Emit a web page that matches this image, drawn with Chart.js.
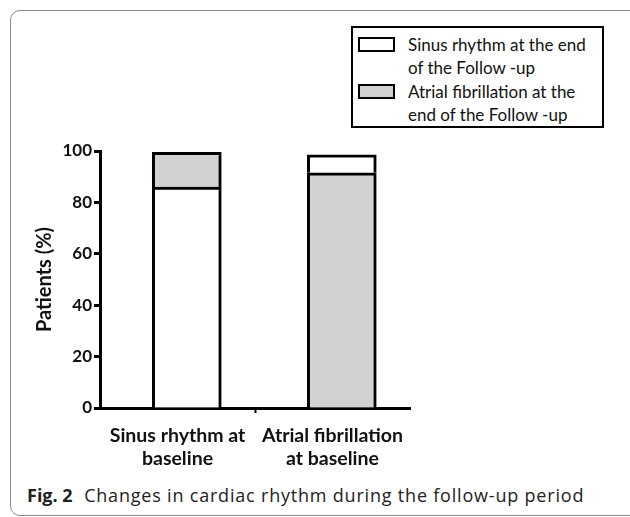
<!DOCTYPE html>
<html lang="en">
<head>
    <meta charset="UTF-8">
    <title>Changes in cardiac rhythm</title>
    <script src="https://cdn.jsdelivr.net/npm/chart.js"></script>
    <style>
        html, body {
            margin: 0;
            padding: 0;
            background: #fff;
            width: 630px;
            height: 517px;
            overflow: hidden;
        }
        .frame {
            position: absolute;
            left: 10px;
            top: 10px;
            width: 700px;
            height: 504px;
            border: 1px solid #8a8a8a;
            border-radius: 10px;
        }
        .chart-box {
            position: absolute;
            left: 0;
            top: 0;
            width: 630px;
            height: 478px;
        }
        .legend {
            position: absolute;
            left: 351px;
            top: 26px;
            width: 249px;
            height: 98px;
            border: 2px solid #000;
            background: #fff;
            font-family: Lato, sans-serif;
            font-size: 17px;
            line-height: 23px;
            color: #111;
        }
        .legend-item {
            position: absolute;
            left: 0;
        }
        .legend-item .swatch {
            position: absolute;
            left: 5px;
            top: 9px;
            width: 33px;
            height: 11px;
            border: 2px solid #000;
        }
        .legend-item .text {
            position: absolute;
            left: 55px;
            top: 5px;
            white-space: nowrap;
        }
        .caption {
            position: absolute;
            left: 27px;
            top: 483px;
            font-family: "Open Sans", sans-serif;
            font-size: 18px;
            letter-spacing: 0.8px;
            color: #222;
            white-space: nowrap;
        }
        .caption b {
            font-weight: 700;
            letter-spacing: 0;
            margin-right: 6px;
        }
    </style>
</head>
<body>
    <div class="frame"></div>
    <div class="chart-box">
        <canvas id="rhythmChart" width="630" height="478"></canvas>
    </div>
    <div class="legend" id="legend"></div>
    <div class="caption"><b>Fig. 2</b> Changes in cardiac rhythm during the follow-up period</div>

    <script>
        // rhythm at baseline (one bar each)
        const categories = [['Sinus rhythm at', 'baseline'], ['Atrial fibrillation', 'at baseline']];
        // rhythm at the end of follow-up, % of patients per bar
        const sinusAtEnd = [86, 7];
        const afAtEnd = [13.5, 91.5];
        const seriesNames = [
            ['Sinus rhythm at the end', 'of the Follow -up'],
            ['Atrial fibrillation at the', 'end of the Follow -up']
        ];
        const yTicks = [0, 20, 40, 60, 80, 100];

        const seriesColors = ['#ffffff', '#d1d3d2'];
        const series = [sinusAtEnd, afAtEnd];

        // bottom segment = same rhythm as baseline, top segment = the other one
        const bottomData = categories.map((c, i) => ({ x: i, y: series[i][i] }));
        const topData = categories.map((c, i) => ({ x: i, y: series[1 - i][i] }));
        const bottomColors = categories.map((c, i) => seriesColors[i]);
        const topColors = categories.map((c, i) => seriesColors[1 - i]);

        // legend
        const legend = document.getElementById('legend');
        seriesNames.forEach((name, i) => {
            const item = document.createElement('div');
            item.className = 'legend-item';
            item.style.top = (i * 47) + 'px';
            item.innerHTML = '<div class="swatch" style="background:' + seriesColors[i] + '"></div>' +
                '<div class="text">' + name.join('<br>') + '</div>';
            legend.appendChild(item);
        });

        new Chart(document.getElementById('rhythmChart'), {
            type: 'bar',
            data: {
                labels: categories,
                datasets: [{
                    xAxisID: 'xBars',
                    data: bottomData,
                    backgroundColor: bottomColors,
                    borderColor: '#000',
                    borderWidth: 3,
                    borderSkipped: 'start'
                }, {
                    xAxisID: 'xBars',
                    data: topData,
                    backgroundColor: topColors,
                    borderColor: '#000',
                    borderWidth: 3,
                    borderSkipped: 'start'
                }]
            },
            options: {
                responsive: false,
                animation: false,
                layout: { padding: { left: 0, right: 220, top: 151, bottom: 0 } },
                plugins: {
                    legend: { display: false },
                    tooltip: { enabled: false }
                },
                datasets: {
                    bar: { barThickness: 69 }
                },
                scales: {
                    // bars sit a little right of the label centres in the original
                    xBars: {
                        type: 'linear',
                        display: false,
                        stacked: true,
                        offset: false,
                        min: -0.56,
                        max: 1.44
                    },
                    x: {
                        type: 'category',
                        offset: true,
                        afterFit: (scale) => { scale.height = 70; },
                        border: { color: '#000', width: 3 },
                        grid: {
                            offset: true,
                            drawOnChartArea: false,
                            tickLength: 5,
                            tickWidth: 2,
                            tickColor: (ctx) => ctx.index === 1 ? '#000' : 'rgba(0,0,0,0)'
                        },
                        ticks: {
                            color: '#111',
                            font: { family: 'Lato', size: 19.5, weight: 'bold', lineHeight: 1.2 },
                            padding: 11,
                            maxRotation: 0,
                            autoSkip: false
                        }
                    },
                    y: {
                        stacked: true,
                        min: 0,
                        max: 100,
                        afterFit: (scale) => { scale.width = 100; },
                        afterBuildTicks: (scale) => { scale.ticks = yTicks.map(v => ({ value: v })); },
                        border: { color: '#000', width: 3 },
                        grid: {
                            drawOnChartArea: false,
                            tickLength: 6,
                            tickWidth: 3,
                            tickColor: '#000'
                        },
                        ticks: {
                            color: '#111',
                            font: { family: 'Lato', size: 17, weight: 'bold' },
                            padding: 2
                        },
                        title: {
                            display: true,
                            text: 'Patients (%)',
                            color: '#111',
                            font: { family: 'Lato', size: 20, weight: 'bold' },
                            padding: { top: 33, bottom: 0 }
                        }
                    }
                }
            }
        });
    </script>
</body>
</html>
